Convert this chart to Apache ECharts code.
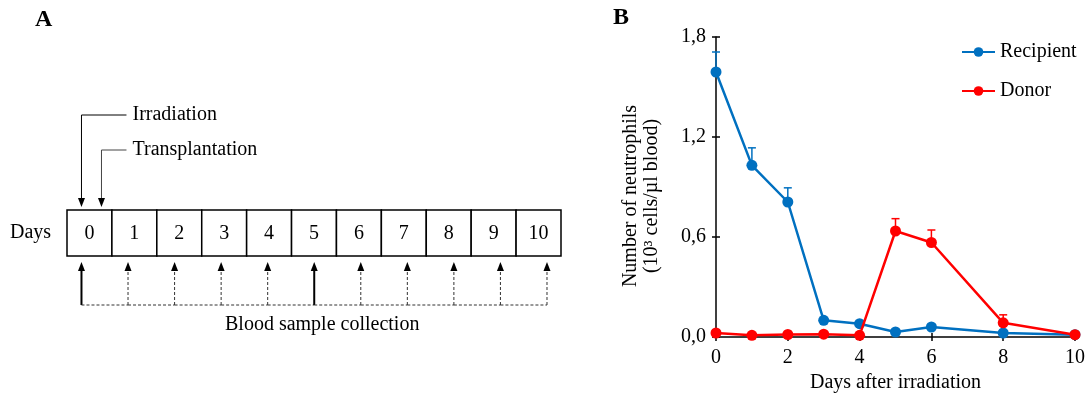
<!DOCTYPE html>
<html lang="en">

<head>
    <meta charset="utf-8">
    <title>Neutrophils after irradiation</title>
    <style>
        * {
            margin: 0;
            padding: 0;
        }

        #chart-container {
            width: 1089px;
            height: 394px;
            background: #fff;
        }
    </style>
</head>

<body>
    <div id="chart-container"></div>
    <script src="https://cdn.jsdelivr.net/npm/echarts@6/dist/echarts.min.js"></script>
    <script>
        // panel A: study timeline
        var timelineDays = [0, 1, 2, 3, 4, 5, 6, 7, 8, 9, 10];
        var sampleDays = [0, 1, 2, 3, 4, 5, 6, 7, 8, 9, 10];
        var fullSampleDays = [0, 5];
        var eventLabels = ['Irradiation', 'Transplantation'];
        var eventDays = [0, 0];

        // panel B: neutrophil counts
        var dayPoints = [0, 1, 2, 3, 4, 5, 6, 8, 10];
        var recipientMean = [1.59, 1.03, 0.81, 0.10, 0.08, 0.03, 0.06, 0.024, 0.014];
        var recipientErr = [0.12, 0.105, 0.085, 0.01, 0.01, 0, 0, 0, 0];
        var donorMean = [0.024, 0.01, 0.015, 0.017, 0.01, 0.636, 0.567, 0.085, 0.014];
        var donorErr = [0, 0, 0, 0, 0, 0.074, 0.075, 0.048, 0];

        var FONT = 'Liberation Serif';
        var BLUE = '#0070C0';
        var RED = '#FF0000';

        var dom = document.getElementById('chart-container');
        var myChart = echarts.init(dom, null, { renderer: 'canvas' });

        function txt(text, extra) {
            var s = { text: text, fontFamily: FONT, fontSize: 20, fill: '#000' };
            for (var k in extra) s[k] = extra[k];
            return s;
        }

        function upArrow(x, tipY, baseY, solid) {
            return [
                {
                    type: 'line',
                    shape: { x1: x, y1: baseY, x2: x, y2: tipY + 7 },
                    style: solid
                        ? { stroke: '#000', lineWidth: 2 }
                        : { stroke: '#333', lineWidth: 1, lineDash: [3, 2] }
                },
                {
                    type: 'polygon',
                    shape: { points: [[x, tipY], [x - 3.5, tipY + 9], [x + 3.5, tipY + 9]] },
                    style: { fill: '#000' }
                }
            ];
        }

        function errBars(mean, err, color) {
            return {
                type: 'custom',
                xAxisIndex: 0,
                yAxisIndex: 0,
                z: 1,
                silent: true,
                data: dayPoints.map(function (d, i) { return [d, mean[i], mean[i] + err[i]]; }),
                renderItem: function (params, api) {
                    var p0 = api.coord([api.value(0), api.value(1)]);
                    var p1 = api.coord([api.value(0), api.value(2)]);
                    if (p0[1] - p1[1] < 1) return null;
                    return {
                        type: 'group',
                        children: [
                            { type: 'line', shape: { x1: p0[0], y1: p0[1], x2: p1[0], y2: p1[1] }, style: { stroke: color, lineWidth: 1.5 } },
                            { type: 'line', shape: { x1: p1[0] - 4, y1: p1[1], x2: p1[0] + 4, y2: p1[1] }, style: { stroke: color, lineWidth: 1.5 } }
                        ]
                    };
                }
            };
        }

        var option = {
            animation: false,
            textStyle: { fontFamily: FONT },
            graphic: [
                { type: 'text', left: 35, top: 8, style: txt('A', { fontSize: 24, fontWeight: 'bold' }) },
                { type: 'text', left: 613, top: 6, style: txt('B', { fontSize: 24, fontWeight: 'bold' }) },
                { type: 'text', left: 10, top: 223, style: txt('Days') },
                { type: 'text', left: 225, top: 315, style: txt('Blood sample collection') }
            ],
            legend: {
                data: ['Recipient', 'Donor'],
                orient: 'vertical',
                left: 956,
                top: 37,
                itemWidth: 33,
                itemHeight: 12,
                itemGap: 19,
                textStyle: { fontFamily: FONT, fontSize: 20, color: '#000' }
            },
            grid: [
                { left: 716, top: 37, width: 359, height: 300, containLabel: false, outerBoundsMode: 'none' },
                { left: 67, top: 100, width: 494, height: 240, containLabel: false, outerBoundsMode: 'none' }
            ],
            xAxis: [
                {
                    type: 'value', gridIndex: 0, min: 0, max: 10, interval: 2,
                    name: 'Days after irradiation', nameLocation: 'middle', nameGap: 36,
                    nameTextStyle: { fontFamily: FONT, fontSize: 20, color: '#000' },
                    axisLine: { onZero: false, lineStyle: { color: '#000', width: 1.5 } },
                    axisTick: { length: 4, lineStyle: { color: '#000', width: 1.5 } },
                    axisLabel: { margin: 11, fontFamily: FONT, fontSize: 20, color: '#000' },
                    splitLine: { show: false }
                },
                {
                    type: 'value', gridIndex: 0, min: 0, max: 10, interval: 2, position: 'bottom',
                    axisLine: { show: false },
                    axisTick: { inside: true, length: 4, lineStyle: { color: '#000', width: 1.5 } },
                    axisLabel: { show: false },
                    splitLine: { show: false }
                },
                { type: 'value', gridIndex: 1, min: -0.5, max: 10.5, show: false },
                { type: 'value', gridIndex: 1, min: -0.311, max: 10.301, show: false }
            ],
            yAxis: [
                {
                    type: 'value', gridIndex: 0, min: 0, max: 1.8, interval: 0.6,
                    name: 'Number of neutrophils\n(10³ cells/µl blood)', nameLocation: 'middle', nameGap: 54,
                    nameTextStyle: { fontFamily: FONT, fontSize: 20, color: '#000', lineHeight: 21, padding: [0, 18, 0, 0] },
                    axisLine: { show: true, onZero: false, lineStyle: { color: '#000', width: 1.5 } },
                    axisTick: { show: true, length: 4, lineStyle: { color: '#000', width: 1.5 } },
                    axisLabel: {
                        margin: 10, fontFamily: FONT, fontSize: 20, color: '#000',
                        formatter: function (v) { return v.toFixed(1).replace('.', ','); }
                    },
                    splitLine: { show: false }
                },
                {
                    type: 'value', gridIndex: 0, min: 0, max: 1.8, interval: 0.6, position: 'left',
                    axisLine: { show: false },
                    axisTick: { show: true, inside: true, length: 4, lineStyle: { color: '#000', width: 1.5 } },
                    axisLabel: { show: false },
                    splitLine: { show: false }
                },
                { type: 'value', gridIndex: 1, min: 0, max: 1, show: false }
            ],
            series: [
                errBars(recipientMean, recipientErr, BLUE),
                errBars(donorMean, donorErr, RED),
                {
                    name: 'Recipient',
                    type: 'line',
                    xAxisIndex: 0,
                    yAxisIndex: 0,
                    z: 3,
                    data: dayPoints.map(function (d, i) { return [d, recipientMean[i]]; }),
                    symbol: 'circle',
                    symbolSize: 11,
                    lineStyle: { color: BLUE, width: 2.5 },
                    itemStyle: { color: BLUE }
                },
                {
                    name: 'Donor',
                    type: 'line',
                    xAxisIndex: 0,
                    yAxisIndex: 0,
                    z: 4,
                    data: dayPoints.map(function (d, i) { return [d, donorMean[i]]; }),
                    symbol: 'circle',
                    symbolSize: 11,
                    lineStyle: { color: RED, width: 2.5 },
                    itemStyle: { color: RED }
                },
                // timeline boxes
                {
                    type: 'custom',
                    xAxisIndex: 2,
                    yAxisIndex: 2,
                    silent: true,
                    data: timelineDays.map(function (d) { return [d, 0]; }),
                    renderItem: function (params, api) {
                        var cs = params.coordSys;
                        var cx = api.coord([api.value(0), 0])[0];
                        var w = api.size([1, 0])[0];
                        var top = cs.y + 110;
                        return {
                            type: 'group',
                            children: [
                                { type: 'rect', shape: { x: cx - w / 2, y: top, width: w, height: 46 }, style: { fill: '#fff', stroke: '#000', lineWidth: 1.5 } },
                                { type: 'text', style: txt(String(api.value(0)), { x: cx, y: top + 24, align: 'center', verticalAlign: 'middle' }) }
                            ]
                        };
                    }
                },
                // blood sample arrows
                {
                    type: 'custom',
                    xAxisIndex: 3,
                    yAxisIndex: 2,
                    silent: true,
                    data: sampleDays.map(function (d) { return [d, 0]; }),
                    renderItem: function (params, api) {
                        var cs = params.coordSys;
                        var day = api.value(0);
                        var x = api.coord([day, 0])[0];
                        var baseY = cs.y + 205;
                        var solid = fullSampleDays.indexOf(day) >= 0;
                        var children = upArrow(x, cs.y + 162, baseY, solid);
                        var idx = params.dataIndex;
                        if (idx < sampleDays.length - 1) {
                            var xn = api.coord([sampleDays[idx + 1], 0])[0];
                            children.push({ type: 'line', shape: { x1: x, y1: baseY, x2: xn, y2: baseY }, style: { stroke: '#333', lineWidth: 1, lineDash: [3, 2] } });
                        }
                        return { type: 'group', children: children };
                    }
                },
                // irradiation / transplantation arrows
                {
                    type: 'custom',
                    xAxisIndex: 3,
                    yAxisIndex: 2,
                    silent: true,
                    data: eventDays.map(function (d, i) { return [d, i]; }),
                    renderItem: function (params, api) {
                        var cs = params.coordSys;
                        var i = api.value(1);
                        var x0 = api.coord([api.value(0), 0])[0];
                        var x = x0 + i * 20;
                        var lineY = cs.y + 15 + i * 35;
                        var tipY = cs.y + 107;
                        var endX = x0 + 45;
                        return {
                            type: 'group',
                            children: [
                                { type: 'polyline', shape: { points: [[endX, lineY], [x, lineY], [x, tipY - 8]] }, style: { stroke: i ? '#444' : '#000', lineWidth: 1, fill: null } },
                                { type: 'polygon', shape: { points: [[x, tipY], [x - 3.5, tipY - 9], [x + 3.5, tipY - 9]] }, style: { fill: '#000' } },
                                { type: 'text', style: txt(eventLabels[params.dataIndex], { x: endX + 6, y: lineY, verticalAlign: 'middle' }) }
                            ]
                        };
                    }
                }
            ]
        };

        myChart.setOption(option);
        window.addEventListener('resize', myChart.resize);
    </script>
</body>

</html>
